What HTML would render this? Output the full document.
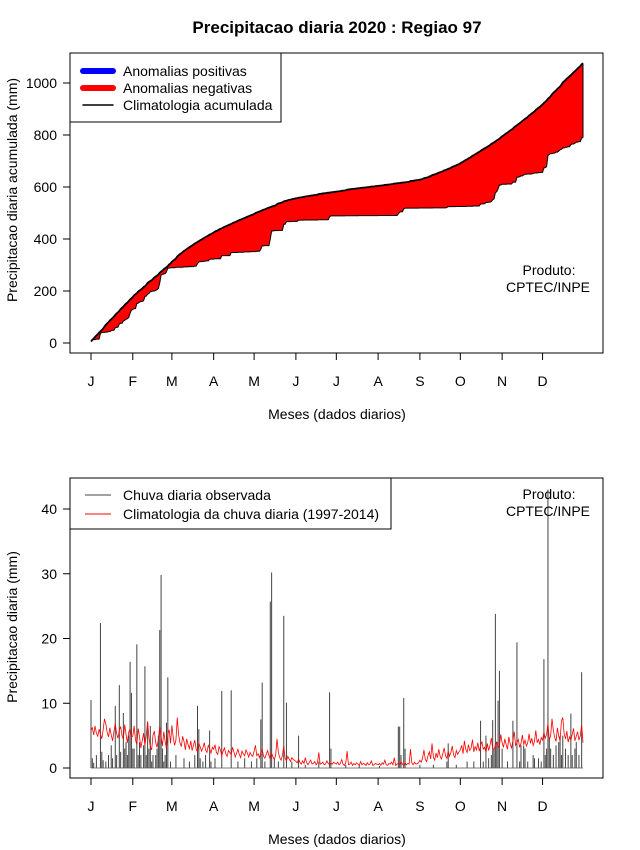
<!DOCTYPE html>
<html><head><meta charset="utf-8">
<style>
body{margin:0;background:#fff;}
svg{display:block;font-family:"Liberation Sans",Arial,sans-serif;}
</style></head>
<body>
<svg id="chart" width="640" height="850" viewBox="0 0 640 850">
<rect width="640" height="850" fill="#fff"/>
<text x="337" y="33" text-anchor="middle" font-size="17" font-weight="bold">Precipitacao diaria 2020 : Regiao 97</text>
<g id="top"></g>
<g id="bot"></g>
</svg>
<script>
const monthLabels = ["J","F","M","A","M","J","J","A","S","O","N","D"];
const monthStartDays = [1,32,61,92,122,153,183,214,245,275,306,336];
const topTicks = [0,200,400,600,800,1000];
const botTicks = [0,10,20,30,40];
const climDaily = [
5.8,6.2,5.1,6.5,5.4,4.9,6.0,5.2,4.5,5.9,7.6,6.8,5.5,4.8,6.2,5.1,4.2,5.6,6.9,5.3,4.6,5.8,6.4,5.0,4.4,6.7,5.2,3.9,5.5,6.1,4.8,
4.9,6.5,4.4,3.6,6.1,4.8,3.1,4.2,5.4,3.5,5.0,7.2,4.6,3.3,2.8,5.1,5.7,3.9,3.2,4.5,6.4,4.8,3.4,5.6,4.1,3.0,5.2,5.9,3.8,
6.6,4.7,3.5,4.3,7.8,5.1,3.9,3.3,4.9,4.1,2.8,4.5,3.6,3.0,4.2,2.7,3.5,4.3,2.9,2.5,3.8,3.3,2.6,3.1,3.9,2.8,2.4,3.5,3.0,2.3,3.2,
2.9,3.6,2.4,2.1,3.3,2.8,1.9,2.6,3.1,2.2,1.8,2.7,2.4,2.0,3.2,2.5,1.7,2.3,2.9,2.1,1.6,2.6,2.2,1.9,2.8,2.3,1.7,2.4,2.0,1.8,
2.6,3.5,1.9,2.2,1.6,2.4,2.9,1.8,1.5,2.1,2.7,1.9,1.4,2.3,1.7,1.3,2.0,4.5,2.4,1.6,1.2,1.9,3.4,1.5,1.1,1.8,1.4,1.0,1.6,1.3,1.2,
1.0,0.8,1.4,0.9,0.6,1.1,0.7,1.6,0.8,0.5,0.9,1.2,0.6,0.7,1.0,0.5,0.8,2.4,0.6,0.7,0.9,0.5,0.6,1.1,0.7,0.5,0.8,0.6,0.9,0.7,
0.6,0.9,0.5,0.7,1.3,0.6,0.4,0.8,2.6,0.5,0.6,0.9,0.4,0.7,0.5,0.8,0.6,0.4,1.0,0.5,0.7,0.6,0.4,0.8,0.5,0.6,1.1,0.4,0.5,0.7,0.6,
0.5,0.7,0.4,0.8,0.6,1.2,0.5,0.4,0.7,0.6,0.9,0.5,1.6,0.4,0.6,0.7,0.5,1.0,0.6,0.4,0.8,0.5,0.7,0.6,2.9,0.8,0.5,0.9,0.6,0.7,0.8,
1.2,0.9,1.5,2.8,1.3,1.0,1.9,2.5,1.4,3.8,1.7,1.2,2.3,1.6,2.9,1.8,1.4,2.2,3.1,1.9,1.5,2.6,1.8,2.4,3.4,2.0,1.6,2.7,2.1,2.5,
2.8,3.5,2.2,4.2,2.9,2.4,3.6,2.7,3.1,4.4,2.5,3.3,2.8,3.9,2.6,3.4,4.1,2.9,3.2,2.4,3.8,2.7,3.5,4.6,3.0,2.8,3.6,4.0,3.1,3.4,5.2,
3.9,3.2,4.5,3.6,2.9,4.8,3.7,3.1,4.2,5.6,3.5,3.9,4.4,3.2,3.8,5.1,3.6,4.3,3.4,3.9,5.3,3.8,4.6,3.5,4.1,5.8,3.9,4.4,3.6,4.7,
4.3,5.5,4.6,5.2,6.9,4.3,5.0,7.6,5.8,4.7,4.1,6.2,4.9,4.2,7.3,7.8,5.3,4.5,5.7,4.0,4.8,4.3,5.2,6.1,4.2,4.9,5.6,4.3,5.0,6.7,3.9];
const obsDays = [1,2,3,5,8,9,10,12,14,16,17,19,20,22,23,25,26,27,28,29,30,
31,32,33,35,36,37,38,40,41,42,43,44,45,46,47,49,50,51,52,53,54,55,56,
57,58,60,64,70,74,78,80,81,82,84,86,89,90,93,98,
105,110,115,120,124,127,128,130,134,135,137,140,144,146,150,155,160,170,178,179,
190,200,215,229,230,231,233,234,245,255,265,266,272,280,285,290,292,294,296,298,299,300,301,302,303,304,
306,310,314,317,319,320,322,323,325,329,330,333,335,337,338,339,340,341,342,344,346,348,349,350,351,353,355,357,358,360,361,363,365];
const obsVals = [10.5,1.5,0.8,2,22.4,2.5,1.2,1,2,3.5,1.5,9.6,2,12.8,2.5,8.5,3,4,2,5,16.4,
11.6,3,3,19.1,2,4,2,3.5,15.7,2,7,3,6.5,1,2,2,3,5,21.3,29.8,3,1,2,
7,14,1,2,1.5,1,2,9.6,6,1.5,1,2,5.8,1,1.5,11.9,
12,1,1.5,1,1.5,7.5,13.2,1,25.7,30.2,1.5,1,23.5,10.1,1,5,0.5,1,11.7,3,
0.5,0.5,0.3,6.4,6.4,2,10.8,3,0.5,0.5,1,3.8,0.5,1,1,7.3,1,5,1.5,2,7.4,3,23.8,4,10.4,15,
3,1,7.3,19.4,1,3.5,3.5,3,1,2,1.5,1.5,1,16.8,2,3,43,4.5,3,2,3.5,4,5,2,5,3,2,8.4,2,3,4,2,14.8];

const NS="http://www.w3.org/2000/svg";
function mk(parent,tag,attrs){const e=document.createElementNS(NS,tag);for(const k in attrs)e.setAttribute(k,attrs[k]);parent.appendChild(e);return e;}
const xDay = d => 91 + (d-1)*(583-91)/365;
const yTop = v => 343 - v*0.26;
const yBot = v => 768 - v*(768-509)/40;

function axes(g, top, bottom, yfun, ticks, ytitle, ycenter, prefix){
  const box=mk(g,'rect',{x:70,y:top,width:533,height:bottom-top,fill:'none',stroke:'#000','stroke-width':1});
  
  
  ticks.forEach(t=>{
    const y=yfun(t);
    const l=mk(g,'line',{x1:63,x2:70,y1:y,y2:y,stroke:'#000'});
    
    
    const tx=mk(g,'text',{x:57,y:y+5,'text-anchor':'end','font-size':14});
    tx.textContent=t;
    
    
  });
  monthStartDays.forEach((d,i)=>{
    const x=xDay(d);
    const l=mk(g,'line',{x1:x,x2:x,y1:bottom,y2:bottom+7,stroke:'#000'});
    
    
    const tx=mk(g,'text',{x:x,y:bottom+33,'text-anchor':'middle','font-size':14});
    tx.textContent=monthLabels[i];
    
    
  });
  const xt=mk(g,'text',{x:337,y:bottom+66,'text-anchor':'middle','font-size':14});
  xt.textContent='Meses (dados diarios)';
  
  
  const yt=mk(g,'text',{x:0,y:0,'text-anchor':'middle','font-size':14,transform:`translate(17,${ycenter}) rotate(-90)`});
  yt.textContent=ytitle;
  
  
}

// ---- top chart
const gT=document.getElementById('top');
const obsDaily=new Array(366).fill(0);
obsDays.forEach((d,i)=>{obsDaily[d-1]+=obsVals[i];});
let cc=0,co=0;const climCum=[],obsCum=[];
for(let i=0;i<366;i++){cc+=climDaily[i];co+=obsDaily[i];climCum.push(cc);obsCum.push(co);}
let up=climCum.map((v,i)=>`${xDay(i+1).toFixed(2)},${yTop(v).toFixed(2)}`);
let lo=obsCum.map((v,i)=>`${xDay(i+1).toFixed(2)},${yTop(v).toFixed(2)}`);
const fill=mk(gT,'polygon',{points:up.concat(lo.slice().reverse()).join(' '),fill:'#ff0000',stroke:'none'});


const lol=mk(gT,'polyline',{points:lo.join(' '),fill:'none',stroke:'#000','stroke-width':1});


const rEnd=mk(gT,'line',{x1:xDay(366),x2:xDay(366),y1:yTop(climCum[365]),y2:yTop(obsCum[365]),stroke:'#000'});


const upl=mk(gT,'polyline',{points:up.join(' '),fill:'none',stroke:'#000','stroke-width':1.8});


axes(gT,53,353,yTop,topTicks,'Precipitacao diaria acumulada (mm)',190,'top');

// top legend
const lg=mk(gT,'g',{});


mk(lg,'rect',{x:70,y:53,width:211,height:69,fill:'#fff',stroke:'#000'});
[['#0000ff',6,'Anomalias positivas',71],['#ff0000',6,'Anomalias negativas',88],['#000',1.5,'Climatologia acumulada',105]].forEach(e=>{
  const it=mk(lg,'g',{});
  
  
  mk(it,'line',{x1:83,x2:113,y1:e[3],y2:e[3],stroke:e[0],'stroke-width':e[1],'stroke-linecap':'round'});
  const t=mk(it,'text',{x:123,y:e[3]+5,'font-size':14});t.textContent=e[2];
});
const p1=mk(gT,'text',{x:549,y:275,'text-anchor':'middle','font-size':14});p1.textContent='Produto:';


const p2=mk(gT,'text',{x:548,y:292,'text-anchor':'middle','font-size':14});p2.textContent='CPTEC/INPE';



// ---- bottom chart
const gB=document.getElementById('bot');
obsDays.forEach((d,i)=>{
  const b=mk(gB,'line',{x1:xDay(d),x2:xDay(d),y1:yBot(0),y2:yBot(obsVals[i]),stroke:'#444','stroke-width':1});
  
  
});
const cl=mk(gB,'polyline',{points:climDaily.map((v,i)=>`${xDay(i+1).toFixed(2)},${yBot(v).toFixed(2)}`).join(' '),fill:'none',stroke:'#ff0000','stroke-width':0.8});


const zl=mk(gB,'line',{x1:xDay(1),x2:xDay(366),y1:yBot(0),y2:yBot(0),stroke:'#555','stroke-width':0.8});


axes(gB,478,778,yBot,botTicks,'Precipitacao diaria (mm)',627,'bottom');
const lg2=mk(gB,'g',{});


mk(lg2,'rect',{x:70,y:478,width:321,height:51,fill:'#fff',stroke:'#000'});
[['#444','Chuva diaria observada',495],['#ff0000','Climatologia da chuva diaria (1997-2014)',514]].forEach(e=>{
  const it=mk(lg2,'g',{});
  
  
  mk(it,'line',{x1:85,x2:111,y1:e[2],y2:e[2],stroke:e[0],'stroke-width':1});
  const t=mk(it,'text',{x:123,y:e[2]+5,'font-size':14});t.textContent=e[1];
});
const p3=mk(gB,'text',{x:549,y:499,'text-anchor':'middle','font-size':14});p3.textContent='Produto:';


const p4=mk(gB,'text',{x:548,y:516,'text-anchor':'middle','font-size':14});p4.textContent='CPTEC/INPE';


</script>
</body></html>
